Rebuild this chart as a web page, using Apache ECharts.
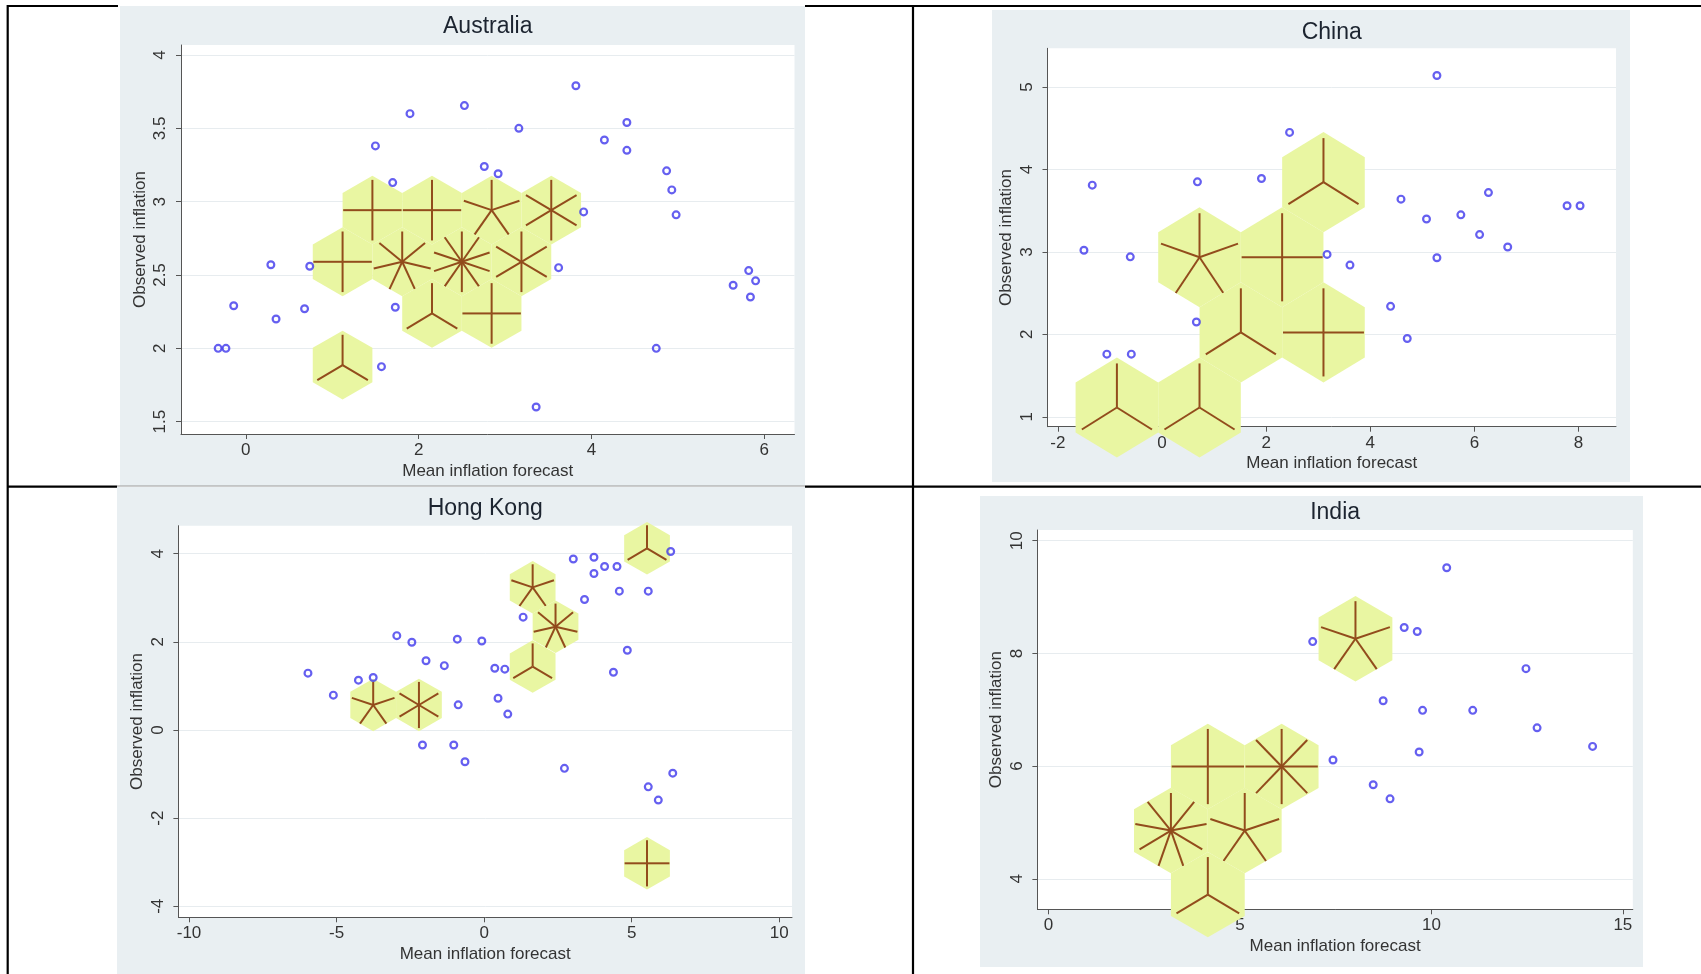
<!DOCTYPE html>
<html>
<head>
<meta charset="utf-8">
<script src="https://cdn.jsdelivr.net/npm/echarts@6/dist/echarts.min.js"></script>
<style>
  html, body { margin: 0; padding: 0; background: #ffffff; }
  #chart { width: 1701px; height: 974px; }
</style>
</head>
<body>
<div id="chart"></div>
<script>
// ---------- Australia ----------
const ausPoints = [
  [-0.32, 2.0], [-0.23, 2.0], [-0.14, 2.29], [0.29, 2.57], [0.35, 2.20], [0.68, 2.27],
  [0.74, 2.56], [1.50, 3.38], [1.70, 3.13], [1.73, 2.28], [1.57, 1.875], [1.90, 3.60],
  [2.53, 3.655], [2.76, 3.24], [2.92, 3.19], [3.16, 3.50], [3.36, 1.60], [3.62, 2.55],
  [3.82, 3.79], [3.91, 2.93], [4.15, 3.42], [4.41, 3.54], [4.41, 3.35], [4.75, 2.0],
  [4.87, 3.21], [4.93, 3.08], [4.98, 2.91], [5.64, 2.43], [5.82, 2.53], [5.90, 2.46],
  [5.84, 2.35]
];
// sunflowers: [bin centre x, bin centre y, observations in bin]
const ausFlowers = [
  [1.12, 2.59, 4], [1.465, 2.942, 4], [2.155, 2.942, 4], [2.845, 2.942, 5], [3.535, 2.942, 6],
  [1.81, 2.59, 7], [2.50, 2.59, 10], [3.19, 2.59, 6], [2.155, 2.238, 3], [2.845, 2.238, 4],
  [1.12, 1.886, 3]
];
const ausXTicks = [0, 2, 4, 6];
const ausYTicks = [1.5, 2, 2.5, 3, 3.5, 4];

// ---------- China ----------
const chnPoints = [
  [-1.34, 3.81], [-1.50, 3.02], [-0.61, 2.94], [-1.06, 1.76], [-0.59, 1.76], [0.68, 3.85],
  [0.66, 2.15], [1.91, 3.89], [2.45, 4.45], [3.17, 2.97], [3.61, 2.84], [4.39, 2.34],
  [4.71, 1.95], [4.59, 3.64], [5.08, 3.40], [5.28, 5.14], [5.28, 2.93], [5.74, 3.45],
  [6.10, 3.21], [6.27, 3.72], [6.64, 3.06], [7.78, 3.56], [8.03, 3.56]
];
const chnFlowers = [
  [-0.867, 1.113, 3], [0.72, 1.113, 3], [0.72, 2.935, 5], [2.307, 2.935, 4],
  [1.514, 2.024, 3], [3.101, 2.024, 4], [3.101, 3.846, 3]
];
const chnXTicks = [-2, 0, 2, 4, 6, 8];
const chnYTicks = [1, 2, 3, 4, 5];

// ---------- Hong Kong ----------
const hkPoints = [
  [-5.97, 1.29], [-5.11, 0.79], [-4.26, 1.13], [-3.76, 1.19], [-2.96, 2.14], [-2.45, 1.99],
  [-1.97, 1.57], [-2.09, -0.34], [-1.35, 1.46], [-0.91, 2.06], [-0.88, 0.57], [-1.03, -0.34],
  [-0.65, -0.72], [-0.08, 2.02], [0.36, 1.40], [0.70, 1.38], [0.47, 0.72], [0.80, 0.36],
  [1.32, 2.56], [2.72, -0.87], [3.02, 3.88], [3.40, 2.96], [3.72, 3.92], [3.72, 3.55],
  [4.08, 3.71], [4.50, 3.71], [4.58, 3.15], [4.38, 1.31], [4.85, 1.81], [5.56, 3.15],
  [6.32, 4.05], [6.39, -0.98], [5.56, -1.29], [5.90, -1.59]
];
const hkFlowers = [
  [-3.76, 0.567, 5], [-2.21, 0.567, 6], [1.643, 3.236, 5], [2.418, 2.344, 7],
  [1.643, 1.44, 3], [5.518, 4.121, 3], [5.518, -3.025, 4]
];
const hkXTicks = [-10, -5, 0, 5, 10];
const hkYTicks = [-4, -2, 0, 2, 4];

// ---------- India ----------
const indPoints = [
  [6.90, 8.21], [9.29, 8.46], [9.63, 8.39], [10.40, 9.52], [12.47, 7.73], [8.74, 7.16],
  [9.77, 6.99], [11.08, 6.99], [12.76, 6.68], [14.21, 6.35], [9.68, 6.25], [7.43, 6.11],
  [8.48, 5.67], [8.92, 5.42]
];
const indFlowers = [
  [8.017, 8.26, 5], [4.161, 5.993, 4], [6.089, 5.993, 8], [3.197, 4.857, 9],
  [5.125, 4.857, 5], [4.161, 3.72, 3]
];
const indXTicks = [0, 5, 10, 15];
const indYTicks = [4, 6, 8, 10];

// ---------- panel layout ----------
const panels = [
  { title: 'Australia', points: ausPoints, flowers: ausFlowers, xTicks: ausXTicks, yTicks: ausYTicks,
    xRange: [-0.75, 6.35], yRange: [1.416, 4.068], bin: [0.69, 0.352],
    grid: { left: 181, top: 45, width: 613.5, height: 389 }, titleY: 26.7,
    bg: [120, 6, 685, 480] },
  { title: 'China', points: chnPoints, flowers: chnFlowers, xTicks: chnXTicks, yTicks: chnYTicks,
    xRange: [-2.2, 8.72], yRange: [0.88, 5.47], bin: [1.587, 0.911],
    grid: { left: 1047.5, top: 48.3, width: 568.5, height: 378.4 }, titleY: 32.3,
    bg: [992, 10, 638, 472] },
  { title: 'Hong Kong', points: hkPoints, flowers: hkFlowers, xTicks: hkXTicks, yTicks: hkYTicks,
    xRange: [-10.36, 10.43], yRange: [-4.25, 4.635], bin: [1.55, 0.893],
    grid: { left: 178.4, top: 525.7, width: 613.6, height: 391.6 }, titleY: 508.3,
    bg: [117, 487, 688, 487] },
  { title: 'India', points: indPoints, flowers: indFlowers, xTicks: indXTicks, yTicks: indYTicks,
    xRange: [-0.29, 15.26], yRange: [3.46, 10.19], bin: [1.928, 1.137],
    grid: { left: 1037.4, top: 530, width: 595.4, height: 379.3 }, titleY: 512.7,
    bg: [980, 496, 663, 471] }
];

const FONT = '"Liberation Sans", Arial, sans-serif';
const PANEL_BG = '#e9eff2';
const HEX_FILL = '#e9f6a2';
const PETAL = '#924c1c';
const DOT = '#3f37ec';
const AXIS = '#555555';
const TEXT = '#333333';

// hexagonal bin with one petal per observation
function sunflowerItem(bin) {
  return function (params, api) {
    const x = api.value(0), y = api.value(1), n = api.value(2);
    const c = api.coord([x, y]);
    const hw = api.coord([x + bin[0] / 2, y])[0] - c[0];
    const R = c[1] - api.coord([x, y + bin[1] / 1.5])[1];
    const hex = [
      [c[0], c[1] - R], [c[0] + hw, c[1] - R / 2], [c[0] + hw, c[1] + R / 2],
      [c[0], c[1] + R], [c[0] - hw, c[1] + R / 2], [c[0] - hw, c[1] - R / 2]
    ];
    const children = [{ type: 'polygon', shape: { points: hex }, style: { fill: HEX_FILL } }];
    const a = 0.98 * hw, b = 0.88 * R;
    for (let k = 0; k < n; k++) {
      const t = Math.PI / 2 - k * 2 * Math.PI / n;
      children.push({
        type: 'line',
        shape: { x1: c[0], y1: c[1], x2: c[0] + a * Math.cos(t), y2: c[1] - b * Math.sin(t) },
        style: { stroke: PETAL, lineWidth: 2 }
      });
    }
    return { type: 'group', children: children };
  };
}

const option = { animation: false, grid: [], xAxis: [], yAxis: [], series: [], graphic: [] };

// grey panel backgrounds
panels.forEach(function (p) {
  option.graphic.push({ type: 'rect', z: -10, silent: true,
    shape: { x: p.bg[0], y: p.bg[1], width: p.bg[2], height: p.bg[3] },
    style: { fill: PANEL_BG } });
});

// table rules
const rules = [
  [7, 6, 118, 6], [805, 6, 1701, 6],
  [7.7, 5, 7.7, 974], [913, 5, 913, 974],
  [7, 486.7, 117, 486.7], [805, 486.7, 1701, 486.7]
];
rules.forEach(function (r) {
  option.graphic.push({ type: 'line', silent: true,
    shape: { x1: r[0], y1: r[1], x2: r[2], y2: r[3] },
    style: { stroke: '#000000', lineWidth: 2.2 } });
});
option.graphic.push({ type: 'line', silent: true,
  shape: { x1: 117, y1: 486, x2: 805, y2: 486 }, style: { stroke: '#9a9a9a', lineWidth: 1 } });

panels.forEach(function (p, i) {
  option.grid.push({ left: p.grid.left, top: p.grid.top, width: p.grid.width, height: p.grid.height,
    show: true, backgroundColor: '#ffffff', borderWidth: 0, containLabel: false });

  option.graphic.push({ type: 'text', silent: true,
    x: p.grid.left + p.grid.width / 2, y: p.titleY,
    style: { text: p.title, font: '23px ' + FONT, fill: '#1c2430',
      align: 'center', verticalAlign: 'middle', textAlign: 'center', textVerticalAlign: 'middle' } });

  option.xAxis.push({
    type: 'value', gridIndex: i, min: p.xRange[0], max: p.xRange[1],
    name: 'Mean inflation forecast', nameLocation: 'middle', nameGap: 37,
    nameTextStyle: { fontFamily: FONT, fontSize: 17, color: TEXT, verticalAlign: 'middle' },
    axisLine: { show: true, onZero: false, lineStyle: { color: AXIS, width: 1 } },
    axisTick: { show: true, length: 5, customValues: p.xTicks, lineStyle: { color: AXIS } },
    axisLabel: { customValues: p.xTicks, margin: 8, fontFamily: FONT, fontSize: 17, color: TEXT },
    splitLine: { show: false }
  });
  option.yAxis.push({
    type: 'value', gridIndex: i, min: p.yRange[0], max: p.yRange[1],
    name: 'Observed inflation', nameLocation: 'middle', nameGap: 41,
    nameTextStyle: { fontFamily: FONT, fontSize: 17, color: TEXT, verticalAlign: 'middle' },
    axisLine: { show: true, onZero: false, lineStyle: { color: AXIS, width: 1 } },
    axisTick: { show: true, length: 5, customValues: p.yTicks, lineStyle: { color: AXIS } },
    axisLabel: { customValues: p.yTicks, rotate: 90, margin: 12, fontFamily: FONT, fontSize: 17, color: TEXT },
    splitLine: { show: true, lineStyle: { color: '#e7ecef', width: 1 } }
  });

  option.series.push({
    type: 'scatter', xAxisIndex: i, yAxisIndex: i, data: p.points, silent: true,
    symbol: 'circle', symbolSize: 6.8,
    itemStyle: { color: 'rgba(0,0,0,0)', borderColor: DOT, borderWidth: 2.2 }
  });
  option.series.push({
    type: 'custom', xAxisIndex: i, yAxisIndex: i, data: p.flowers, silent: true,
    encode: { x: 0, y: 1 }, clip: false,
    renderItem: sunflowerItem(p.bin)
  });
});

const chart = echarts.init(document.getElementById('chart'), null, { renderer: 'canvas' });
chart.setOption(option);
</script>
</body>
</html>
